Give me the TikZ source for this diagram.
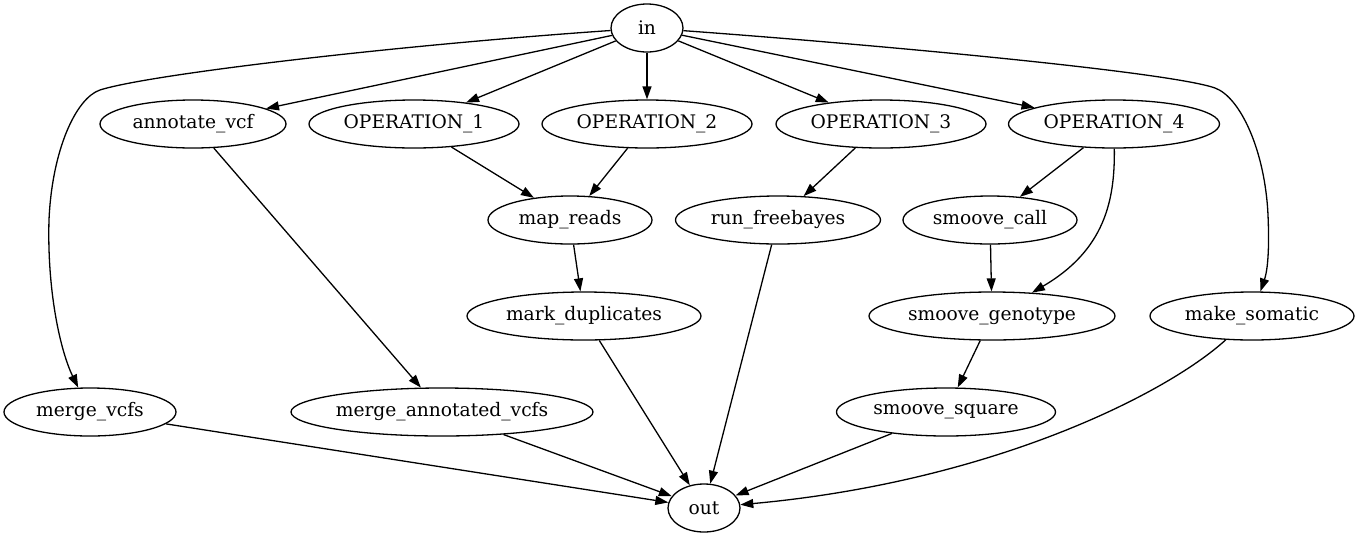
\documentclass[tikz,border=0pt]{standalone}
\usepackage{fontspec}
\setmainfont{DejaVu Serif}
\usetikzlibrary{shapes.geometric,arrows.meta}

\begin{document}
\begin{tikzpicture}[x=1pt,y=-1pt,
    font=\fontsize{18.67}{22}\selectfont,
    job/.style={ellipse, draw, line width=1.3pt, inner sep=0pt,
      minimum height=48pt, minimum width=#1},
    >={Triangle[length=13pt,width=9pt]}]
    \useasboundingbox (0,0) rectangle (1358,539);
    %% Draw the nodes
    \node[job=72]  (in)     at (647,28)  {in};
    \node[job=186] (annot)  at (193,124) {annotate\_vcf};
    \node[job=210] (op1)    at (414,124) {OPERATION\_1};
    \node[job=210] (op2)    at (647,124) {OPERATION\_2};
    \node[job=210] (op3)    at (881,124) {OPERATION\_3};
    \node[job=211] (op4)    at (1114,124) {OPERATION\_4};
    \node[job=164] (mapr)   at (570,220) {map\_reads};
    \node[job=205] (freeb)  at (778,220) {run\_freebayes};
    \node[job=174] (smcall) at (990,220) {smoove\_call};
    \node[job=234] (markd)  at (584,316) {mark\_duplicates};
    \node[job=246] (smgeno) at (992,316) {smoove\_genotype};
    \node[job=204] (makes)  at (1252,316) {make\_somatic};
    \node[job=172] (mvcfs)  at (90,412)  {merge\_vcfs};
    \node[job=302] (mannot) at (442,412) {merge\_annotated\_vcfs};
    \node[job=219] (smsq)   at (946,412) {smoove\_square};
    \node[job=72]  (out)    at (704,508) {out};
    %% Draw the edges
    \begin{scope}[every path/.style={->, line width=1.3pt}]
      \draw (in) -- (annot);
      \draw (in) -- (op1);
      \draw (in) -- (op2);
      \draw (in) -- (op3);
      \draw (in) -- (op4);
      \draw (in) .. controls (400,45) and (150,74) .. (100,90)
                 .. controls (76,98) and (52,150) .. (49,220)
                 .. controls (47,290) and (60,350) .. (mvcfs);
      \draw (in) .. controls (880,45) and (1170,72) .. (1215,88)
                 .. controls (1240,97) and (1265,150) .. (1268,215)
                 .. controls (1270,260) and (1266,275) .. (makes);
      \draw (op1) -- (mapr);
      \draw (op2) -- (mapr);
      \draw (op3) -- (freeb);
      \draw (op4) -- (smcall);
      \draw (op4) .. controls (1115,200) and (1105,250) .. (smgeno);
      \draw (smcall) -- (smgeno);
      \draw (mapr) -- (markd);
      \draw (smgeno) -- (smsq);
      \draw (annot) -- (mannot);
      \draw (markd) -- (out);
      \draw (freeb) -- (out);
      \draw (mvcfs) -- (out);
      \draw (mannot) -- (out);
      \draw (smsq) -- (out);
      \draw (makes) .. controls (1165,395) and (990,482) .. (out);
    \end{scope}
\end{tikzpicture}
\end{document}
